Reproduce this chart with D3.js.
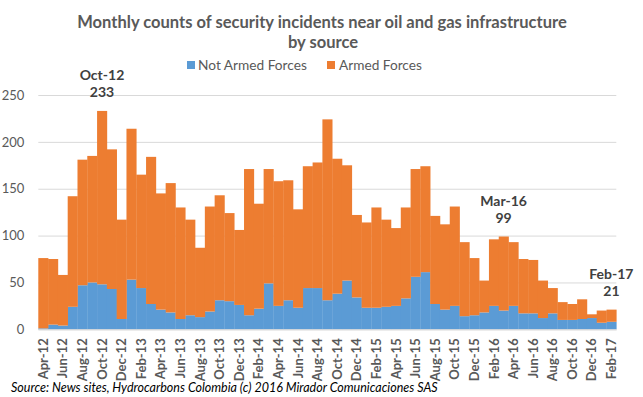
<!DOCTYPE html>
<html>
<head>
<meta charset="utf-8">
<script src="https://cdn.jsdelivr.net/npm/d3@7"></script>
<style>
  body { margin: 0; background: #fff; }
  text { font-family: Lato, "Open Sans", sans-serif; fill: #595959; }
</style>
</head>
<body>
<div id="chart"></div>
<script>
// months shown on the x axis (one bar per month)
const months = [
  "Apr-12","May-12","Jun-12","Jul-12","Aug-12","Sep-12","Oct-12","Nov-12","Dec-12",
  "Jan-13","Feb-13","Mar-13","Apr-13","May-13","Jun-13","Jul-13","Aug-13","Sep-13","Oct-13","Nov-13","Dec-13",
  "Jan-14","Feb-14","Mar-14","Apr-14","May-14","Jun-14","Jul-14","Aug-14","Sep-14","Oct-14","Nov-14","Dec-14",
  "Jan-15","Feb-15","Mar-15","Apr-15","May-15","Jun-15","Jul-15","Aug-15","Sep-15","Oct-15","Nov-15","Dec-15",
  "Jan-16","Feb-16","Mar-16","Apr-16","May-16","Jun-16","Jul-16","Aug-16","Sep-16","Oct-16","Nov-16","Dec-16",
  "Jan-17","Feb-17"
];

// incidents by source
const notArmedForces = [
  1,5,4,24,47,50,48,43,11,
  53,44,27,21,18,11,15,13,19,31,30,26,
  15,22,49,25,31,23,44,44,31,38,52,34,
  23,23,24,25,33,56,61,27,21,25,14,15,
  18,25,20,25,17,17,12,17,10,10,11,12,
  7,8
];
const armedForces = [
  75,70,54,118,134,135,185,149,106,
  161,121,157,124,138,119,102,74,112,112,94,80,
  156,112,122,133,128,105,130,134,193,144,123,88,
  91,107,93,83,97,115,113,94,91,106,79,61,
  34,71,79,68,58,57,40,27,19,17,21,4,
  13,13
];

// labelled months
const callouts = [
  { month: "Oct-12", total: 233 },
  { month: "Mar-16", total: 99 },
  { month: "Feb-17", total: 21 }
];

const yTicks = [0, 50, 100, 150, 200, 250];
const xTickLabels = months.filter((m, i) => i % 2 === 0);

const seriesNames = ["Not Armed Forces", "Armed Forces"];
const colors = { "Not Armed Forces": "#5B9BD5", "Armed Forces": "#ED7D31" };

const W = 643, H = 397;
const plot = { left: 38.3, right: 616.3, top: 95, bottom: 329.3 };

const svg = d3.select("#chart").append("svg")
  .attr("width", W)
  .attr("height", H);

// make a text element match a measured width by scaling its font size
function fitWidth(sel, target) {
  const node = sel.node();
  const size = parseFloat(sel.style("font-size"));
  const w = node.getComputedTextLength();
  sel.style("font-size", (size * target / w) + "px");
}

const x = d3.scaleBand()
  .domain(months)
  .range([plot.left, plot.right])
  .padding(0);

const y = d3.scaleLinear()
  .domain([0, 250])
  .range([plot.bottom, plot.top]);

// gridlines + y labels
const yAxis = svg.append("g")
  .attr("transform", "translate(" + plot.left + ",0)")
  .call(d3.axisLeft(y).tickValues(yTicks).tickSize(-(plot.right - plot.left)).tickPadding(14));
yAxis.select(".domain").remove();
yAxis.selectAll(".tick line").attr("stroke", "#d9d9d9").attr("stroke-width", 1);
yAxis.selectAll(".tick text")
  .style("font-size", "13px")
  .style("font-family", "Lato, sans-serif")
  .attr("fill", "#595959");

// stacked bars
const table = months.map((m, i) => ({
  month: m,
  "Not Armed Forces": notArmedForces[i],
  "Armed Forces": armedForces[i]
}));
const stacked = d3.stack().keys(seriesNames)(table);

svg.append("g").selectAll("g")
  .data(stacked)
  .enter().append("g")
  .attr("fill", d => colors[d.key])
  .selectAll("rect")
  .data(d => d)
  .enter().append("rect")
  .attr("x", d => x(d.data.month))
  .attr("width", x.bandwidth() + 0.3)
  .attr("y", d => y(d[1]))
  .attr("height", d => y(d[0]) - y(d[1]));

// x axis
const xAxis = svg.append("g")
  .attr("transform", "translate(0," + plot.bottom + ")")
  .call(d3.axisBottom(x).tickValues(xTickLabels).tickSize(0));
xAxis.select(".domain").attr("stroke", "#d9d9d9");
xAxis.selectAll(".tick text")
  .attr("transform", "rotate(-90)")
  .attr("x", -9)
  .attr("y", 0)
  .attr("dy", "0.36em")
  .style("text-anchor", "end")
  .style("font-size", "13px")
  .style("font-weight", "bold")
  .style("font-family", "Lato, sans-serif")
  .attr("fill", "#595959");

// callouts
const notes = svg.append("g").selectAll("g")
  .data(callouts)
  .enter().append("g");
notes.append("text")
  .attr("x", d => x(d.month) + x.bandwidth() / 2)
  .attr("y", d => y(d.total) - 31)
  .attr("text-anchor", "middle")
  .style("font-size", "14px")
  .style("font-weight", "bold")
  .style("fill", "#404040")
  .text(d => d.month);
notes.append("text")
  .attr("x", d => x(d.month) + x.bandwidth() / 2)
  .attr("y", d => y(d.total) - 13.5)
  .attr("text-anchor", "middle")
  .style("font-size", "14px")
  .style("font-weight", "bold")
  .style("fill", "#404040")
  .text(d => d.total);

// title
const t1 = svg.append("text")
  .attr("x", 322).attr("y", 27.7)
  .attr("text-anchor", "middle")
  .style("font-size", "17px")
  .style("font-weight", "bold")
  .text("Monthly counts of security incidents near oil and gas infrastructure");
fitWidth(t1, 490);
svg.append("text")
  .attr("x", 323).attr("y", 48)
  .attr("text-anchor", "middle")
  .style("font-size", t1.style("font-size"))
  .style("font-weight", "bold")
  .text("by source");

// legend
const legendPos = [
  { name: "Not Armed Forces", sx: 187, tx: 198, w: 109 },
  { name: "Armed Forces", sx: 327, tx: 339, w: 83 }
];
legendPos.forEach(l => {
  svg.append("rect")
    .attr("x", l.sx).attr("y", 61)
    .attr("width", 8).attr("height", 8)
    .attr("fill", colors[l.name]);
  const lt = svg.append("text")
    .attr("x", l.tx).attr("y", 69.5)
    .style("font-size", "14px")
    .text(l.name);
  fitWidth(lt, l.w);
});

// source
const src = svg.append("text")
  .attr("x", 11).attr("y", 392)
  .style("font-size", "12px")
  .style("font-style", "italic")
  .style("fill", "#000")
  .text("Source:  News sites, Hydrocarbons Colombia (c) 2016 Mirador Comunicaciones SAS");
fitWidth(src, 427);
</script>
</body>
</html>
